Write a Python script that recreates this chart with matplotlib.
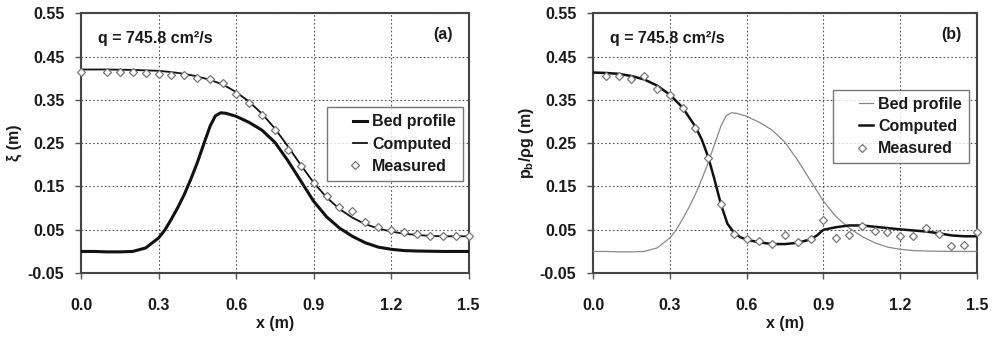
import matplotlib
matplotlib.use("Agg")
import numpy as np
import matplotlib.pyplot as plt
from matplotlib.legend_handler import HandlerLine2D

plt.rcParams['font.family'] = ['Liberation Sans', 'DejaVu Sans']
plt.rcParams['font.weight'] = 'bold'
plt.rcParams['axes.labelweight'] = 'bold'
plt.rcParams['mathtext.fontset'] = 'custom'
plt.rcParams['mathtext.rm'] = 'Liberation Sans:bold'
plt.rcParams['mathtext.it'] = 'Liberation Sans:bold'
plt.rcParams['mathtext.bf'] = 'Liberation Sans:bold'

# bed profile (same hump in both panels)
bed_x = [0, 0.05, 0.1, 0.15, 0.2, 0.25, 0.3, 0.325, 0.35, 0.375, 0.4, 0.425, 0.45,
         0.475, 0.5, 0.52, 0.54, 0.56, 0.6, 0.65, 0.7, 0.75, 0.8, 0.85, 0.9, 0.95,
         1.0, 1.05, 1.1, 1.15, 1.2, 1.25, 1.3, 1.4, 1.5]
bed_y = [0.0, 0.0, -0.001, -0.001, 0.0, 0.008, 0.031, 0.05, 0.075, 0.102, 0.132, 0.167,
         0.205, 0.248, 0.29, 0.313, 0.32, 0.319, 0.312, 0.298, 0.28, 0.252, 0.21, 0.163,
         0.116, 0.08, 0.054, 0.035, 0.02, 0.01, 0.005, 0.002, 0.001, 0.0, 0.0]

# panel (a): free surface
comp_a_x = [0, 0.1, 0.2, 0.3, 0.35, 0.4, 0.45, 0.5, 0.55, 0.6, 0.65, 0.7, 0.75, 0.8,
            0.85, 0.9, 0.95, 1.0, 1.05, 1.1, 1.15, 1.2, 1.25, 1.3, 1.35, 1.4, 1.5]
comp_a_y = [0.42, 0.42, 0.419, 0.417, 0.414, 0.41, 0.404, 0.396, 0.385, 0.368, 0.346,
            0.318, 0.284, 0.243, 0.2, 0.159, 0.125, 0.098, 0.078, 0.063, 0.053, 0.046,
            0.041, 0.038, 0.036, 0.035, 0.035]
meas_a_x = [0, 0.1, 0.15, 0.2, 0.25, 0.3, 0.35, 0.4, 0.45, 0.5, 0.55, 0.6, 0.65, 0.7,
            0.75, 0.8, 0.85, 0.9, 0.95, 1.0, 1.05, 1.1, 1.15, 1.2, 1.25, 1.3, 1.35,
            1.4, 1.45, 1.5]
meas_a_y = [0.415, 0.415, 0.415, 0.415, 0.413, 0.41, 0.408, 0.407, 0.4, 0.397, 0.388,
            0.364, 0.342, 0.316, 0.281, 0.235, 0.198, 0.159, 0.127, 0.102, 0.093, 0.067,
            0.056, 0.05, 0.046, 0.04, 0.036, 0.035, 0.035, 0.035]

# panel (b): bed pressure head
comp_b_x = [0, 0.05, 0.1, 0.15, 0.2, 0.25, 0.3, 0.35, 0.4, 0.425, 0.45, 0.475, 0.5,
            0.525, 0.55, 0.575, 0.6, 0.65, 0.7, 0.75, 0.8, 0.85, 0.875, 0.9, 0.95, 1.0,
            1.05, 1.1, 1.2, 1.3, 1.35, 1.4, 1.45, 1.5]
comp_b_y = [0.413, 0.412, 0.41, 0.405, 0.397, 0.383, 0.362, 0.332, 0.288, 0.258, 0.218,
            0.165, 0.108, 0.064, 0.044, 0.033, 0.027, 0.021, 0.017, 0.017, 0.02, 0.028,
            0.037, 0.05, 0.056, 0.06, 0.06, 0.057, 0.051, 0.046, 0.042, 0.037, 0.035, 0.035]
meas_b_x = [0.05, 0.1, 0.15, 0.2, 0.25, 0.3, 0.35, 0.4, 0.45, 0.5, 0.55, 0.6, 0.65, 0.7,
            0.75, 0.8, 0.85, 0.9, 0.95, 1.0, 1.05, 1.1, 1.15, 1.2, 1.25, 1.3, 1.35,
            1.4, 1.45, 1.5]
meas_b_y = [0.405, 0.405, 0.399, 0.404, 0.375, 0.362, 0.331, 0.286, 0.215, 0.109, 0.04,
            0.028, 0.023, 0.018, 0.037, 0.021, 0.028, 0.072, 0.03, 0.038, 0.059, 0.048,
            0.044, 0.036, 0.036, 0.055, 0.04, 0.012, 0.014, 0.044]

x_ticks = [0.0, 0.3, 0.6, 0.9, 1.2, 1.5]
y_ticks = [-0.05, 0.05, 0.15, 0.25, 0.35, 0.45, 0.55]

TXT = '#1a1a1a'
FS = 11.5


class ShortHandle(HandlerLine2D):
    # legend key drawn only on the right part of the handle box, like the original
    def create_artists(self, legend, orig_handle, xdescent, ydescent, width,
                       height, fontsize, trans):
        arts = super().create_artists(legend, orig_handle, xdescent, ydescent,
                                      width, height, fontsize, trans)
        x0 = -xdescent
        no_line = str(orig_handle.get_linestyle()).lower() in ('none', '', ' ')
        for a in arts:
            n = len(a.get_xdata())
            if no_line:
                xd = np.linspace(x0 + 0.52 * width, x0 + 0.68 * width, n)
            else:
                xd = np.linspace(x0 + 0.52 * width, x0 + 0.93 * width, n)
            a.set_xdata(xd)
        return arts


fig = plt.figure(figsize=(9.94, 3.38), dpi=100)
ax_a = fig.add_axes([0.0815, 0.192, 0.390, 0.769])
ax_b = fig.add_axes([0.5966, 0.192, 0.3863, 0.769])


def style_axes(ax, ylabel, tag):
    ax.set_xlim(0, 1.5)
    ax.set_ylim(-0.05, 0.55)
    ax.set_xticks(x_ticks)
    ax.set_yticks(y_ticks)
    ax.set_xticklabels([f'{v:.1f}' for v in x_ticks])
    ax.set_yticklabels([f'{v:.2f}' for v in y_ticks])
    ax.tick_params(axis='x', length=4, width=1, color='#555', pad=14,
                   labelsize=FS, labelcolor=TXT)
    ax.tick_params(axis='y', length=4, width=1, color='#555', pad=8,
                   labelsize=FS, labelcolor=TXT)
    ax.grid(True, color='#555', linestyle=(0, (1.5, 2)), linewidth=0.8)
    ax.set_axisbelow(True)
    for sp in ax.spines.values():
        sp.set_color('#444')
        sp.set_linewidth(1.5)
    ax.set_xlabel('x (m)', fontsize=FS, color=TXT, va='center', fontweight='bold')
    ax.xaxis.set_label_coords(0.5, -0.192)
    ax.set_ylabel(ylabel, fontsize=FS, color=TXT, va='center', fontweight='bold')
    ax.yaxis.set_label_coords(-0.172, 0.5)
    ax.text(0.067, 0.492, 'q = 745.8 cm²/s', fontsize=FS, color=TXT,
            ha='left', va='center')
    ax.text(1.40, 0.50, tag, fontsize=FS, color=TXT, ha='center', va='center')


def add_legend(ax, anchor):
    leg = ax.legend(loc='upper right', bbox_to_anchor=anchor, fontsize=FS,
                    frameon=True, fancybox=False, handlelength=2.2,
                    handletextpad=0.15, borderpad=0.45, labelspacing=0.45,
                    borderaxespad=0, handler_map={plt.Line2D: ShortHandle()})
    leg.get_frame().set_edgecolor('#555')
    leg.get_frame().set_linewidth(1.0)
    for t in leg.get_texts():
        t.set_color(TXT)
    return leg


# panel (a)
ax_a.plot(bed_x, bed_y, color='#111', lw=2.2, label='Bed profile', zorder=3)
ax_a.plot(comp_a_x, comp_a_y, color='#111', lw=1.3, label='Computed', zorder=3)
ax_a.plot(meas_a_x, meas_a_y, ls='none', marker='D', ms=4.5, mfc='white',
          mec='#777', mew=0.9, label='Measured', zorder=4, clip_on=False)
style_axes(ax_a, 'ξ (m)', '(a)')
add_legend(ax_a, (0.985, 0.638))

# panel (b)
ax_b.plot(bed_x, bed_y, color='#888', lw=0.9, label='Bed profile', zorder=3)
ax_b.plot(comp_b_x, comp_b_y, color='#111', lw=1.8, label='Computed', zorder=3)
ax_b.plot(meas_b_x, meas_b_y, ls='none', marker='D', ms=4.5, mfc='white',
          mec='#777', mew=0.9, label='Measured', zorder=4, clip_on=False)
style_axes(ax_b, r'$\mathregular{p_b/\rho g}$ (m)', '(b)')
add_legend(ax_b, (0.979, 0.706))

fig.savefig('out.png', dpi=100)
